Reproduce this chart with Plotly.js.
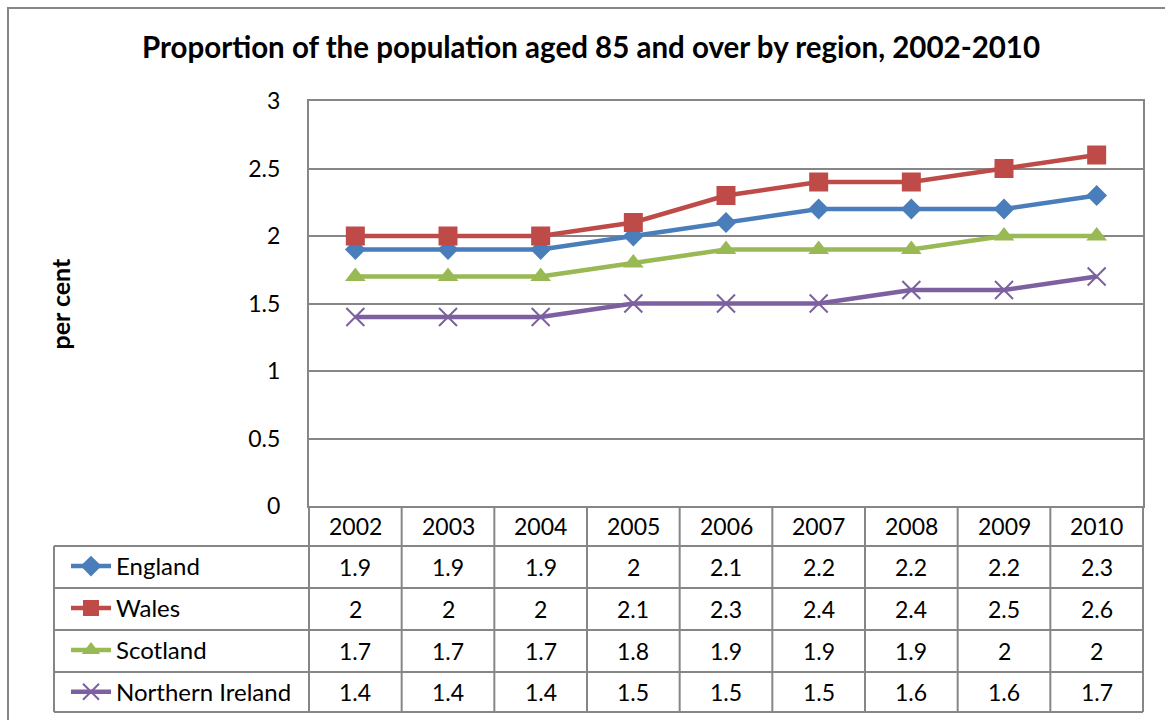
<!DOCTYPE html>
<html>
<head>
<meta charset="utf-8">
<script src="https://cdn.plot.ly/plotly-3.0.1.min.js"></script>
<style>
  body { margin: 0; background: #fff; }
  #chart { width: 1165px; height: 720px; }
</style>
</head>
<body>
<div id="chart"></div>
<script>
// data
var years = ['2002', '2003', '2004', '2005', '2006', '2007', '2008', '2009', '2010'];
var england = [1.9, 1.9, 1.9, 2, 2.1, 2.2, 2.2, 2.2, 2.3];
var wales = [2, 2, 2, 2.1, 2.3, 2.4, 2.4, 2.5, 2.6];
var scotland = [1.7, 1.7, 1.7, 1.8, 1.9, 1.9, 1.9, 2, 2];
var nireland = [1.4, 1.4, 1.4, 1.5, 1.5, 1.5, 1.6, 1.6, 1.7];
var regionNames = ['England', 'Wales', 'Scotland', 'Northern Ireland'];

var W = 1165, H = 720;
var FONT = 'Lato, "Open Sans", sans-serif';
var GRID = '#868686';

// plot area in pixels
var plotL = 309, plotR = 1143, plotT = 101, plotB = 506;
var rowTops = [506, 546, 588, 630, 672, 712];
var tableLeft = 54;

function px(x) { return x / W; }
function py(y) { return 1 - y / H; }

var series = [
  { name: regionNames[0], y: england, color: '#4A7EBB', symbol: 'diamond', size: 16 },
  { name: regionNames[1], y: wales, color: '#BE4B48', symbol: 'square', size: 19 },
  { name: regionNames[2], y: scotland, color: '#98B954', symbol: 'triangle-up', size: 18 },
  { name: regionNames[3], y: nireland, color: '#7D60A0', symbol: 'x-thin', size: 18 }
];

var data = series.map(function (s, i) {
  return {
    type: 'scatter',
    mode: 'lines+markers',
    name: s.name,
    legendgroup: 'g' + i,
    x: years,
    y: s.y,
    line: { color: s.color, width: 4.5 },
    marker: {
      symbol: s.symbol,
      size: s.size,
      color: s.color,
      line: { color: s.color, width: s.symbol == 'x-thin' ? 2 : 0 }
    },
    cliponaxis: false
  };
});

var shapes = [];
// outer chart border
shapes.push({ type: 'rect', xref: 'paper', yref: 'paper',
  x0: px(8), x1: px(1175), y0: py(8), y1: py(730),
  line: { color: GRID, width: 2 } });

// table horizontal lines
for (var r = 1; r < rowTops.length; r++) {
  shapes.push({ type: 'line', xref: 'paper', yref: 'paper',
    x0: px(tableLeft), x1: px(plotR), y0: py(rowTops[r]), y1: py(rowTops[r]),
    line: { color: GRID, width: 2 } });
}
// table vertical lines
var colW = (plotR - plotL) / years.length;
for (var c = 0; c <= years.length; c++) {
  var xc = plotL + c * colW;
  shapes.push({ type: 'line', xref: 'paper', yref: 'paper',
    x0: px(xc), x1: px(xc), y0: py(rowTops[0]), y1: py(rowTops[5]),
    line: { color: GRID, width: 2 } });
}
shapes.push({ type: 'line', xref: 'paper', yref: 'paper',
  x0: px(tableLeft), x1: px(tableLeft), y0: py(rowTops[1]), y1: py(rowTops[5]),
  line: { color: GRID, width: 2 } });

var annotations = [];
// year header row (x given as category index, years look numeric)
years.forEach(function (yr, j) {
  annotations.push({ xref: 'x', yref: 'paper', x: j,
    y: py((rowTops[0] + rowTops[1]) / 2), text: yr, showarrow: false,
    xanchor: 'center', yanchor: 'middle', font: { family: FONT, size: 23, color: '#000' } });
});
// value rows
series.forEach(function (s, i) {
  var yc = (rowTops[i + 1] + rowTops[i + 2]) / 2;
  s.y.forEach(function (v, j) {
    annotations.push({ xref: 'x', yref: 'paper', x: j, y: py(yc),
      text: String(v), showarrow: false, xanchor: 'center', yanchor: 'middle',
      font: { family: FONT, size: 23, color: '#000' } });
  });
});
// y axis title
annotations.push({ xref: 'paper', yref: 'paper', x: px(60), y: py((plotT + plotB) / 2),
  text: '<b>per cent</b>', textangle: -90, showarrow: false,
  xanchor: 'center', yanchor: 'middle', font: { family: FONT, size: 25, color: '#000' } });

var layout = {
  width: W,
  height: H,
  margin: { l: 0, r: 0, t: 0, b: 0 },
  paper_bgcolor: '#fff',
  plot_bgcolor: '#fff',
  font: { family: FONT, color: '#000' },
  title: {
    text: '<b>Proportion of the population aged 85 and over by region, 2002-2010</b>',
    x: px(591), xanchor: 'center', y: py(48), yanchor: 'middle',
    font: { family: FONT, size: 29.5, color: '#000' }
  },
  xaxis: {
    domain: [px(plotL), px(plotR)],
    type: 'category',
    range: [-0.5, years.length - 0.5],
    showticklabels: false,
    ticks: '',
    showgrid: false,
    showline: true,
    mirror: true,
    linecolor: GRID,
    linewidth: 2,
    zeroline: false
  },
  yaxis: {
    domain: [py(plotB), py(plotT)],
    range: [0, 3],
    dtick: 0.5,
    tick0: 0,
    ticks: '',
    ticklabelstandoff: 22,
    tickfont: { family: FONT, size: 23, color: '#000' },
    showgrid: true,
    gridcolor: GRID,
    gridwidth: 2,
    showline: true,
    mirror: true,
    linecolor: GRID,
    linewidth: 2,
    zeroline: false
  },
  showlegend: true,
  legend: {
    x: px(66), xanchor: 'left',
    y: py(544), yanchor: 'top',
    orientation: 'v',
    tracegroupgap: 7.7,
    itemwidth: 40,
    bgcolor: 'rgba(0,0,0,0)',
    font: { family: FONT, size: 24, color: '#000' }
  },
  shapes: shapes,
  annotations: annotations
};

Plotly.newPlot('chart', data, layout, { displayModeBar: false });
</script>
</body>
</html>
